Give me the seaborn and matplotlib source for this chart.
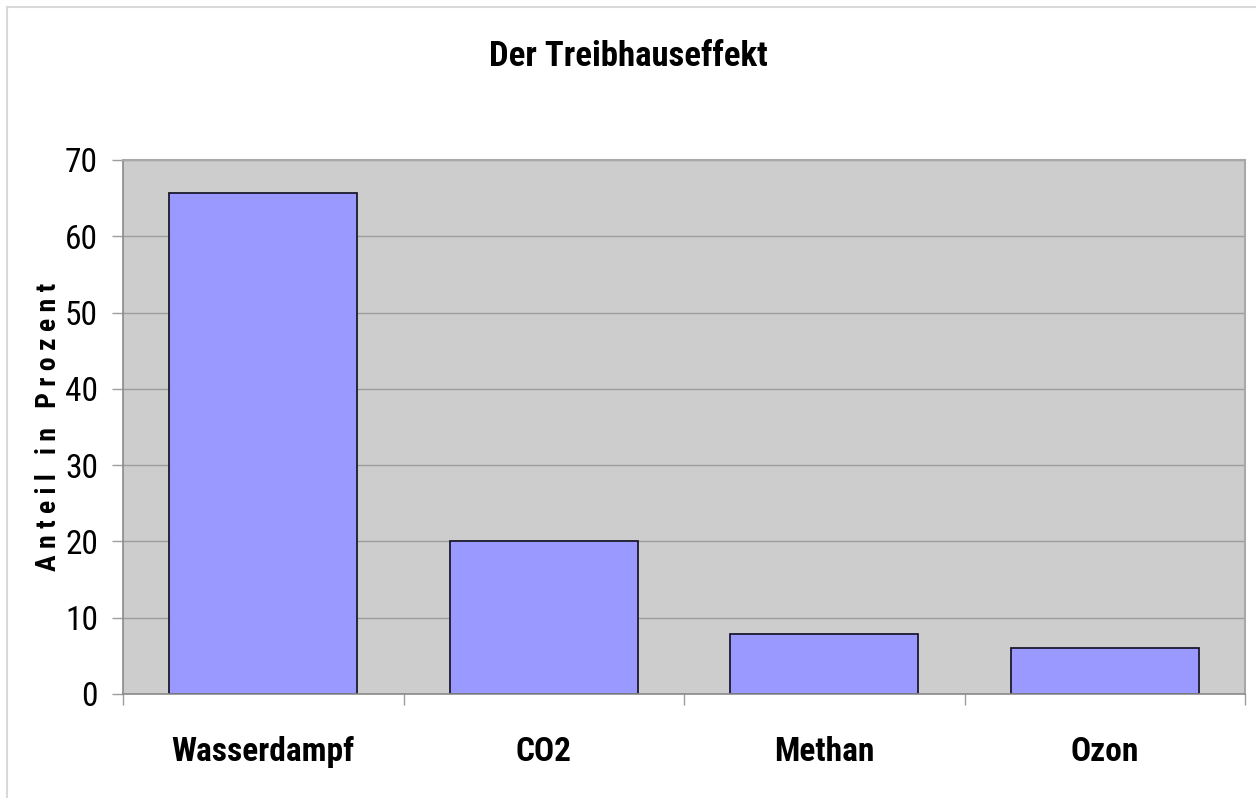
import matplotlib
matplotlib.use("Agg")
import matplotlib.pyplot as plt
import seaborn as sns
import pandas as pd

categories = ["Wasserdampf", "CO2", "Methan", "Ozon"]
values = [65.7, 20.1, 7.9, 6.0]
yticks = [0, 10, 20, 30, 40, 50, 60, 70]
title = "Der Treibhauseffekt"
ylabel = "A n t e i l   i n   P r o z e n t"

sns.set_theme(style="white")
plt.rcParams["font.family"] = ["Roboto Condensed", "DejaVu Sans"]
plt.rcParams["text.color"] = "black"

df = pd.DataFrame({"cat": categories, "val": values})

fig = plt.figure(figsize=(12.56, 7.98), dpi=100)
ax = fig.add_axes([123/1256, 1 - 694/798, (1245-123)/1256, (694-160)/798])
ax.set_facecolor("#CDCDCD")
ax.set_axisbelow(True)
ax.yaxis.grid(True, color="#9E9E9E", linewidth=1)
sns.barplot(data=df, x="cat", y="val", color="#9999FF", saturation=1,
            edgecolor="#1A1A2E", linewidth=1.3, width=0.67, ax=ax)
ax.set_xlim(-0.5, len(categories) - 0.5)
ax.set_ylim(0, 70)
ax.set_yticks(yticks)
ax.set_yticklabels([str(t) for t in yticks], fontsize=24, color="black")
ax.set_xticks([i - 0.5 for i in range(len(categories) + 1)], minor=True)
ax.set_xticks(range(len(categories)))
ax.set_xticklabels(categories, fontsize=24, fontweight="bold", color="black")
ax.tick_params(axis="x", which="major", length=0, pad=30)
ax.tick_params(axis="x", which="minor", length=8, color="#9E9E9E", width=1, bottom=True)
ax.tick_params(axis="y", length=8, color="#9E9E9E", width=1, left=True, pad=10)
for s in ["top", "right"]:
    ax.spines[s].set_color("#A8A8A8")
    ax.spines[s].set_linewidth(1.5)
for s in ["left", "bottom"]:
    ax.spines[s].set_color("#8A8A8A")
    ax.spines[s].set_linewidth(1.2)
ax.set_xlabel("")
ax.set_ylabel(ylabel, fontsize=20, fontweight="bold", labelpad=2, color="black")
fig.text(0.5, 1 - 56/798, title, ha="center", va="center", fontsize=25,
         fontweight="bold", color="black")
fig.add_artist(plt.Rectangle((7/1256, -0.1), 1.2, 1.1 - 7/798,
                             transform=fig.transFigure, fill=False,
                             edgecolor="#D8D8D8", linewidth=1.5))
fig.savefig("out.png", dpi=100)
